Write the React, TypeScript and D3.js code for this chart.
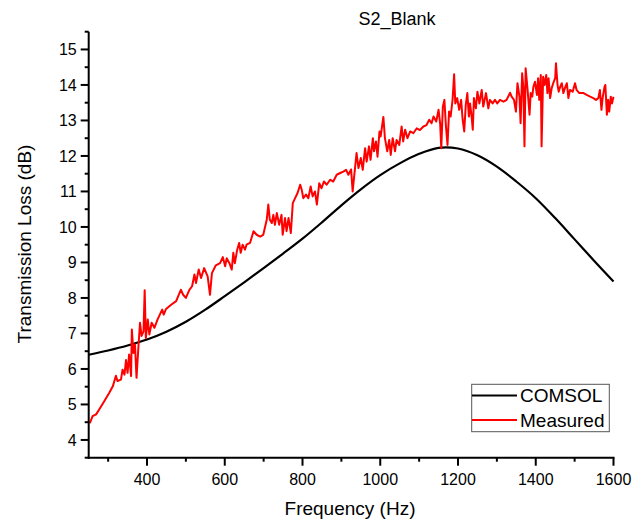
import React from "react";
import * as d3 from "d3";

const comsolFreq = [250, 300, 350, 400, 450, 500, 550, 600, 650, 700, 750, 800, 850, 900, 950, 1000, 1050, 1100, 1150, 1200, 1250, 1300, 1350, 1400, 1450, 1500, 1550, 1600];
const comsolTL = [6.40, 6.52, 6.66, 6.83, 7.05, 7.33, 7.67, 8.05, 8.44, 8.84, 9.25, 9.67, 10.13, 10.61, 11.06, 11.46, 11.79, 12.06, 12.23, 12.21, 12.02, 11.70, 11.28, 10.81, 10.25, 9.65, 9.05, 8.46];

const measFreq = [253, 260, 269, 277, 290, 303, 312, 320, 324, 333, 337, 342, 346, 350, 354, 359, 361, 365, 369, 373, 378, 382, 386, 391, 394, 397, 402, 406, 412, 419, 427, 439, 443, 449, 462, 475, 487, 493, 500, 509, 516, 522, 526, 533, 539, 547, 556, 562, 567, 577, 588, 595, 601, 605, 612, 618, 622, 626, 632, 637, 641, 646, 652, 656, 665, 674, 682, 691, 699, 708, 712, 716, 721, 725, 729, 734, 740, 746, 749, 755, 759, 764, 770, 775, 781, 787, 794, 798, 802, 809, 815, 821, 826, 832, 837, 843, 849, 855, 862, 871, 879, 888, 897, 905, 912, 918, 925, 929, 935, 939, 944, 950, 955, 961, 965, 971, 975, 981, 984, 989, 993, 998, 1001, 1008, 1012, 1018, 1023, 1027, 1032, 1038, 1042, 1049, 1055, 1059, 1064, 1070, 1077, 1085, 1094, 1102, 1111, 1119, 1126, 1132, 1137, 1144, 1150, 1154, 1157, 1161, 1165, 1169, 1173, 1177, 1181, 1186, 1190, 1193, 1198, 1203, 1208, 1212, 1216, 1220, 1224, 1228, 1231, 1235, 1238, 1241, 1246, 1250, 1255, 1261, 1265, 1272, 1278, 1282, 1289, 1295, 1301, 1308, 1317, 1325, 1334, 1338, 1344, 1349, 1353, 1358, 1361, 1365, 1368, 1371, 1374, 1379, 1384, 1387, 1391, 1394, 1398, 1403, 1406, 1409, 1413, 1415, 1419, 1423, 1427, 1430, 1433, 1437, 1441, 1445, 1450, 1452, 1456, 1459, 1463, 1467, 1471, 1475, 1480, 1484, 1488, 1495, 1501, 1505, 1512, 1523, 1531, 1540, 1548, 1555, 1561, 1565, 1569, 1572, 1577, 1579, 1583, 1586, 1589, 1593, 1596, 1600];
const measTL = [4.47, 4.67, 4.72, 4.86, 5.09, 5.33, 5.51, 5.81, 5.66, 5.70, 5.98, 5.84, 6.25, 5.89, 6.41, 5.80, 7.11, 6.45, 6.69, 5.75, 6.64, 7.30, 6.93, 7.06, 8.22, 6.87, 7.39, 6.97, 7.30, 7.16, 7.39, 7.67, 7.53, 7.69, 7.81, 7.91, 8.23, 8.09, 8.00, 8.23, 8.33, 8.66, 8.42, 8.80, 8.56, 8.84, 8.61, 8.09, 8.70, 8.92, 8.98, 9.15, 8.89, 9.12, 8.98, 8.80, 9.27, 8.98, 9.36, 9.55, 9.27, 9.50, 9.36, 9.50, 9.55, 9.88, 9.78, 9.73, 9.78, 10.20, 10.63, 10.20, 10.11, 10.34, 10.06, 10.39, 10.06, 10.34, 9.78, 10.25, 9.88, 10.25, 9.83, 10.67, 10.81, 10.95, 11.19, 11.05, 10.81, 10.91, 10.81, 11.14, 10.86, 11.00, 10.63, 11.23, 11.09, 11.28, 11.19, 11.33, 11.28, 11.47, 11.52, 11.56, 11.61, 11.47, 11.62, 11.00, 11.65, 12.08, 11.66, 11.94, 11.61, 12.22, 11.84, 12.27, 11.89, 12.50, 12.13, 12.41, 11.98, 12.69, 12.55, 13.10, 12.50, 12.13, 12.45, 12.03, 12.50, 12.13, 12.45, 12.31, 12.83, 12.41, 12.74, 12.50, 12.69, 12.64, 12.78, 12.73, 12.83, 12.87, 13.02, 12.92, 13.11, 12.97, 13.30, 12.92, 12.22, 13.39, 13.58, 12.83, 12.31, 13.25, 13.11, 13.58, 14.30, 13.48, 13.63, 13.30, 13.58, 13.02, 12.69, 13.44, 13.77, 13.11, 13.48, 13.11, 12.74, 13.63, 13.34, 13.81, 13.48, 13.86, 13.39, 13.77, 13.34, 13.58, 13.48, 13.58, 13.48, 13.58, 13.53, 13.58, 13.78, 13.67, 13.58, 13.25, 14.05, 13.67, 12.92, 14.33, 13.95, 12.27, 14.47, 13.86, 13.16, 13.77, 13.67, 13.95, 14.09, 13.72, 14.19, 13.58, 14.28, 12.27, 14.23, 14.00, 14.28, 13.77, 14.19, 13.63, 13.91, 14.05, 14.19, 14.61, 14.00, 13.81, 13.95, 14.05, 13.77, 13.91, 14.05, 13.63, 13.86, 13.81, 14.05, 13.86, 13.77, 13.77, 13.72, 13.67, 13.63, 13.58, 13.63, 13.86, 13.30, 13.63, 13.95, 14.00, 13.16, 13.58, 13.25, 13.67, 13.48, 13.67];

const xMajorTicks = [400, 600, 800, 1000, 1200, 1400, 1600];
const xMinorTicks = [300, 500, 700, 900, 1100, 1300, 1500];
const yMajorTicks = [4, 5, 6, 7, 8, 9, 10, 11, 12, 13, 14, 15];
const yMinorTicks = [3.5, 4.5, 5.5, 6.5, 7.5, 8.5, 9.5, 10.5, 11.5, 12.5, 13.5, 14.5, 15.5];
const seriesNames = ["COMSOL", "Measured"];
const seriesColors = ["#000000", "#ff0000"];

const FONT = "'Liberation Sans', Arial, sans-serif";

export default function App() {
  const x = d3.scaleLinear().domain([250, 1600]).range([88.7, 613.5]);
  const y = d3.scaleLinear().domain([3.5, 15.5]).range([457.7, 31.7]);
  const comsolPath = d3
    .line<[number, number]>()
    .x((d) => x(d[0]))
    .y((d) => y(d[1]))
    .curve(d3.curveCatmullRom.alpha(0.5))(
    comsolFreq.map((f, i) => [f, comsolTL[i]] as [number, number])
  );
  const measPath = d3
    .line<[number, number]>()
    .x((d) => x(d[0]))
    .y((d) => y(d[1]))(measFreq.map((f, i) => [f, measTL[i]] as [number, number]));

  const x0 = x(250);
  const y0 = y(3.5);

  return (
    <svg
      width={632}
      height={523}
      style={{ position: "absolute", left: 0, top: 0, background: "#fff" }}
      fontFamily={FONT}
    >
      <rect width={632} height={523} fill="#fff" />
      <defs>
        <clipPath id="plot">
          <rect x={x0} y={y(15.5) - 2} width={x(1600) - x0 + 2} height={y0 - y(15.5) + 2} />
        </clipPath>
      </defs>
      <g clipPath="url(#plot)">
        <path d={comsolPath || ""} fill="none" stroke={seriesColors[0]} strokeWidth={2.2} />
        <path d={measPath || ""} fill="none" stroke={seriesColors[1]} strokeWidth={2} strokeLinejoin="round" />
      </g>
      {/* axes */}
      <line x1={x0} x2={x0} y1={y(15.5)} y2={y0 + 1} stroke="#000" strokeWidth={2} />
      <line x1={x0 - 1} x2={x(1600) + 1} y1={y0} y2={y0} stroke="#000" strokeWidth={2} />
      {yMajorTicks.map((t) => (
        <g key={"ym" + t}>
          <line x1={x0 - 8} x2={x0} y1={y(t)} y2={y(t)} stroke="#000" strokeWidth={2} />
          <text x={x0 - 12} y={y(t)} dy="0.36em" textAnchor="end" fontSize={16} fill="#000">
            {t}
          </text>
        </g>
      ))}
      {yMinorTicks.map((t) => (
        <line key={"yn" + t} x1={x0 - 4} x2={x0} y1={y(t)} y2={y(t)} stroke="#000" strokeWidth={2} />
      ))}
      {xMajorTicks.map((t) => (
        <g key={"xm" + t}>
          <line x1={x(t)} x2={x(t)} y1={y0} y2={y0 + 8} stroke="#000" strokeWidth={2} />
          <text x={x(t)} y={y0 + 27} textAnchor="middle" fontSize={16} fill="#000">
            {t}
          </text>
        </g>
      ))}
      {xMinorTicks.map((t) => (
        <line key={"xn" + t} x1={x(t)} x2={x(t)} y1={y0} y2={y0 + 4} stroke="#000" strokeWidth={2} />
      ))}
      {/* titles */}
      <text x={397} y={25} textAnchor="middle" fontSize={18} fill="#000">
        S2_Blank
      </text>
      <text x={350} y={515} textAnchor="middle" fontSize={19} fill="#000">
        Frequency (Hz)
      </text>
      <text
        transform={`translate(31, 244) rotate(-90)`}
        textAnchor="middle"
        fontSize={19}
        fill="#000"
      >
        Transmission Loss (dB)
      </text>
      {/* legend */}
      <rect x={471.7} y={384.3} width={137.6} height={47.4} fill="#fff" stroke="#555" strokeWidth={1} />
      {seriesNames.map((n, i) => (
        <g key={n}>
          <line x1={472} x2={517} y1={395.5 + i * 24.5} y2={395.5 + i * 24.5} stroke={seriesColors[i]} strokeWidth={2} />
          <text x={520} y={395.5 + i * 24.5} dy="0.36em" fontSize={19} fill="#000">
            {n}
          </text>
        </g>
      ))}
    </svg>
  );
}
